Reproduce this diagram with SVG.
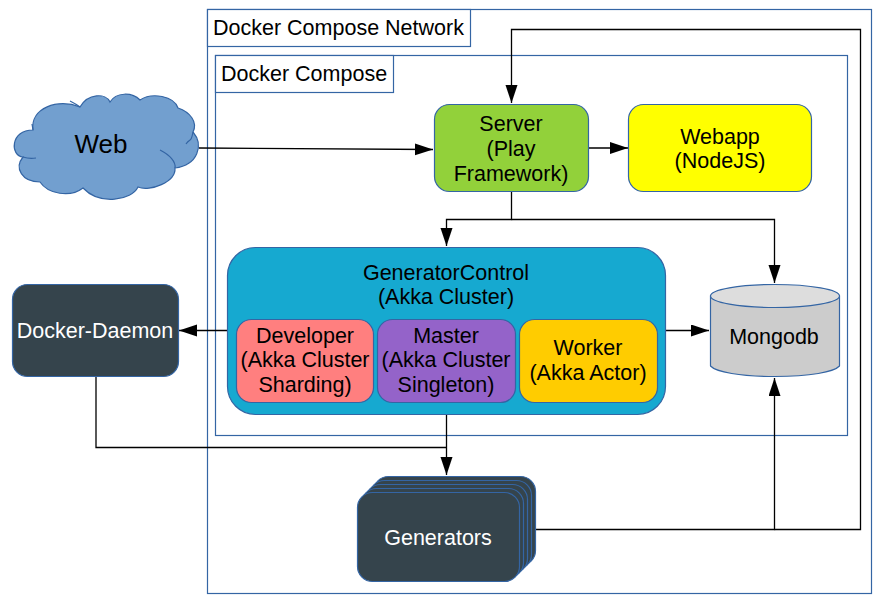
<svg xmlns="http://www.w3.org/2000/svg" width="883" height="603" viewBox="0 0 883 603">
<style>
text{font-family:"Liberation Sans",Arial,sans-serif;font-size:21.5px;text-anchor:middle;fill:#000}
.w{fill:#fff}
.s{stroke:#3465a4;stroke-width:1.2}
.c{fill:none;stroke:#000;stroke-width:1.3}
.d{fill:#35444c}
.l{text-anchor:start}
</style>
<defs><marker id="a" markerUnits="userSpaceOnUse" markerWidth="20" markerHeight="14" refX="18" refY="6" orient="auto"><path d="M0 0L18 6L0 12Z" fill="#000"/></marker></defs>
<rect width="883" height="603" fill="#fff"/>
<g id="network"><rect class="s" x="207.500" y="9.500" width="664" height="584" fill="#fff"/><rect class="s" x="207.500" y="9.500" width="263" height="37" fill="#fff"/><text class="l" x="213" y="35">Docker Compose Network</text></g>
<g id="compose"><rect class="s" x="215.500" y="55.500" width="632" height="380" fill="#fff"/><rect class="s" x="215.500" y="55.500" width="178" height="37" fill="#fff"/><text class="l" x="221" y="81">Docker Compose</text></g>
<g id="connectors">
<path class="c" marker-end="url(#a)" d="M199 148L433 149.500"/>
<path class="c" marker-end="url(#a)" d="M589 148H628"/>
<path class="c" marker-end="url(#a)" d="M511.500 192V219.500H446.500V246"/>
<path class="c" marker-end="url(#a)" d="M511.500 219.500H774.500V283"/>
<path class="c" marker-end="url(#a)" d="M228 330.500H179"/>
<path class="c" marker-end="url(#a)" d="M665 330.500H709"/>
<path class="c" marker-end="url(#a)" d="M446.500 414V475"/>
<path class="c" d="M96 376V447.500H446.500"/>
<path class="c" marker-end="url(#a)" d="M535 529.500H774.500V378"/>
<path class="c" marker-end="url(#a)" d="M774.500 529.500H860.500V29.500H511.500V103"/>
</g>
<g id="web"><path class="s" fill="#729fcf" d="M33 130C30 108 58 98 80 107C88 93 106 93 110 102C116 92 132 92 140 100C152 92 174 96 178 108C190 112 198 122 193 132C204 145 198 165 175 168C176 182 150 192 138 187C132 200 100 206 83 188C70 198 48 194 40 182C22 182 14 168 23 157C10 156 10 130 33 130Z"/><path class="s" fill="none" d="M33 130L32 124M80 107C76 104 72 102 70 101M193 132C191 143 190 138 186 144M160 150C170 155 176 162 175 168M23 157C26 158 30 159 36 158"/><text x="101" y="153" style="font-size:26px">Web</text></g>
<g id="server"><rect class="s" x="434.500" y="104.500" width="154" height="87" rx="15" fill="#92d13a"/><text x="511" y="131">Server</text><text x="511" y="156">(Play</text><text x="511" y="181">Framework)</text></g>
<g id="webapp"><rect class="s" x="628.500" y="104.500" width="183" height="87" rx="15" fill="#ff0"/><text x="720" y="144">Webapp</text><text x="720" y="168">(NodeJS)</text></g>
<g id="generatorcontrol"><rect class="s" x="227.500" y="247.500" width="438" height="167" rx="28" fill="#16a9d0"/><text x="446" y="280">GeneratorControl</text><text x="446" y="304">(Akka Cluster)</text></g>
<g id="developer"><rect class="s" x="236.500" y="319.500" width="137" height="83" rx="15" fill="#ff7f7f"/><text x="305" y="343">Developer</text><text x="305" y="367">(Akka Cluster</text><text x="305" y="392">Sharding)</text></g>
<g id="master"><rect class="s" x="377.500" y="319.500" width="138" height="83" rx="15" fill="#9463c9"/><text x="446" y="343">Master</text><text x="446" y="367">(Akka Cluster</text><text x="446" y="392">Singleton)</text></g>
<g id="worker"><rect class="s" x="519.500" y="319.500" width="138" height="83" rx="15" fill="#ffcc00"/><text x="588" y="355">Worker</text><text x="588" y="380">(Akka Actor)</text></g>
<g id="daemon"><rect class="s d" x="12.500" y="284.500" width="166" height="92" rx="15"/><text class="w" x="95" y="338">Docker-Daemon</text></g>
<g id="mongodb"><path class="s" d="M710.500 296V366C716 372 740 376.500 775 376.500S834 372 839.500 366V296Z" fill="#ccc"/><ellipse class="s" cx="775" cy="296" rx="64.500" ry="11.500" fill="#ddd"/><text x="774" y="344">Mongodb</text></g>
<g id="generators">
<rect class="s d" x="373.500" y="476.500" width="162" height="89" rx="15"/>
<rect class="s d" x="369.500" y="480.500" width="162" height="89" rx="15"/>
<rect class="s d" x="365.500" y="484.500" width="162" height="89" rx="15"/>
<rect class="s d" x="361.500" y="488.500" width="162" height="89" rx="15"/>
<rect class="s d" x="357.500" y="492.500" width="162" height="89" rx="15"/>
<text class="w" x="438" y="545">Generators</text></g>
</svg>
